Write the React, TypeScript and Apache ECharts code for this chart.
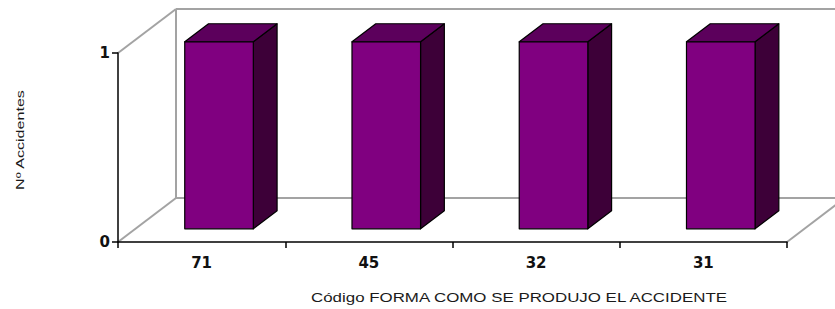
import React, { useEffect, useRef } from "react";
import * as echarts from "echarts";

const categories = ["71", "45", "32", "31"];
const values = [1, 1, 1, 1];
const yTicks = [0, 1];
const xTitle = "Código FORMA COMO SE PRODUJO EL ACCIDENTE";
const yTitle = "Nº Accidentes";

const DX = 58;
const DY = -44;
const BAR_FRONT = 0.3;
const BAR_DEPTH = 0.41;
const BAR_W = 0.41;

export default function App() {
  const ref = useRef<HTMLDivElement>(null);
  useEffect(() => {
    if (!ref.current) return;
    const chart = echarts.init(ref.current, undefined, { renderer: "svg" });
    const wallColor = "#a3a3a3";
    chart.setOption({
      animation: false,
      backgroundColor: "#ffffff",
      grid: { left: 118, right: 48, top: 53, bottom: 67, outerBoundsMode: "none", containLabel: false },
      xAxis: {
        type: "category",
        data: categories,
        boundaryGap: true,
        axisLine: { show: true, lineStyle: { color: "#000", width: 1.5 } },
        axisTick: { show: true, length: 6, lineStyle: { color: "#000", width: 1.5 } },
        axisLabel: {
          margin: 13,
          fontFamily: "DejaVu Sans",
          fontWeight: "bold",
          fontSize: 15,
          color: "#111",
        },
        splitLine: { show: false },
        z: 5,
      },
      yAxis: {
        type: "value",
        min: yTicks[0],
        max: yTicks[yTicks.length - 1],
        interval: 1,
        axisLine: { show: true, lineStyle: { color: "#000", width: 1.5 } },
        axisTick: { show: true, length: 6, lineStyle: { color: "#000", width: 1.5 } },
        axisLabel: {
          margin: 8,
          fontFamily: "DejaVu Sans",
          fontWeight: "bold",
          fontSize: 15,
          color: "#111",
        },
        splitLine: { show: false },
        z: 5,
      },
      graphic: [
        {
          type: "text",
          x: 20,
          y: 140,
          rotation: Math.PI / 2,
          scaleX: 1.4,
          style: {
            text: yTitle,
            fontFamily: "Liberation Sans",
            fontSize: 11.5,
            fill: "#1a1a1a",
            textAlign: "center",
            textVerticalAlign: "middle",
          },
        },
        {
          type: "text",
          x: 519,
          y: 297,
          scaleX: 1.3,
          style: {
            text: xTitle,
            fontFamily: "Liberation Sans",
            fontSize: 13,
            fill: "#1a1a1a",
            textAlign: "center",
            textVerticalAlign: "middle",
          },
        },
      ],
      series: [
        {
          type: "custom",
          clip: false,
          z: 1,
          data: [[0]],
          renderItem: (params: any, api: any) => {
            const cs = params.coordSys;
            const x = cs.x, y = cs.y, w = cs.width, h = cs.height;
            const ls = { stroke: wallColor, lineWidth: 2, fill: "none" };
            const line = (x1: number, y1: number, x2: number, y2: number) => ({
              type: "line",
              shape: { x1, y1, x2, y2 },
              style: ls,
            });
            const children: any[] = [
              line(x, y, x + DX, y + DY),
              line(x, y + h, x + DX, y + h + DY),
              line(x + DX, y + DY, x + DX, y + h + DY),
              line(x + DX, y + DY, x + w + DX, y + DY),
              line(x + DX, y + h + DY, x + w + DX, y + h + DY),
              line(x + w, y + h, x + w + DX, y + h + DY),
              line(x + w + DX, y + DY, x + w + DX, y + h + DY),
            ];
            return { type: "group", children };
          },
        },
        {
          type: "custom",
          clip: false,
          z: 3,
          encode: { x: 0, y: 1 },
          data: categories.map((c, i) => [i, values[i]]),
          renderItem: (params: any, api: any) => {
            const idx = api.value(0);
            const v = api.value(1);
            const top = api.coord([idx, v]);
            const base = api.coord([idx, 0]);
            const band = api.size([1, 0])[0];
            const bw = band * BAR_W;
            const fx = BAR_FRONT * DX, fy = BAR_FRONT * DY;
            const ddx = BAR_DEPTH * DX, ddy = BAR_DEPTH * DY;
            const x0 = top[0] - bw / 2 + fx;
            const x1 = x0 + bw;
            const yT = top[1] + fy + 2;
            const yB = base[1] + fy;
            const edge = { stroke: "#000", lineWidth: 1.2, lineJoin: "round" };
            return {
              type: "group",
              children: [
                {
                  type: "polygon",
                  shape: { points: [[x1, yT], [x1 + ddx, yT + ddy], [x1 + ddx, yB + ddy], [x1, yB]] },
                  style: { fill: "#3d0038", ...edge },
                },
                {
                  type: "polygon",
                  shape: { points: [[x0, yT], [x1, yT], [x1 + ddx, yT + ddy], [x0 + ddx, yT + ddy]] },
                  style: { fill: "#5c005c", ...edge },
                },
                {
                  type: "rect",
                  shape: { x: x0, y: yT, width: bw, height: yB - yT },
                  style: { fill: "#800080", ...edge },
                },
              ],
            };
          },
        },
      ],
    });
    return () => chart.dispose();
  }, []);
  return (
    <div
      ref={ref}
      style={{ position: "fixed", left: 0, top: 0, width: 835, height: 309, background: "#fff" }}
    />
  );
}
